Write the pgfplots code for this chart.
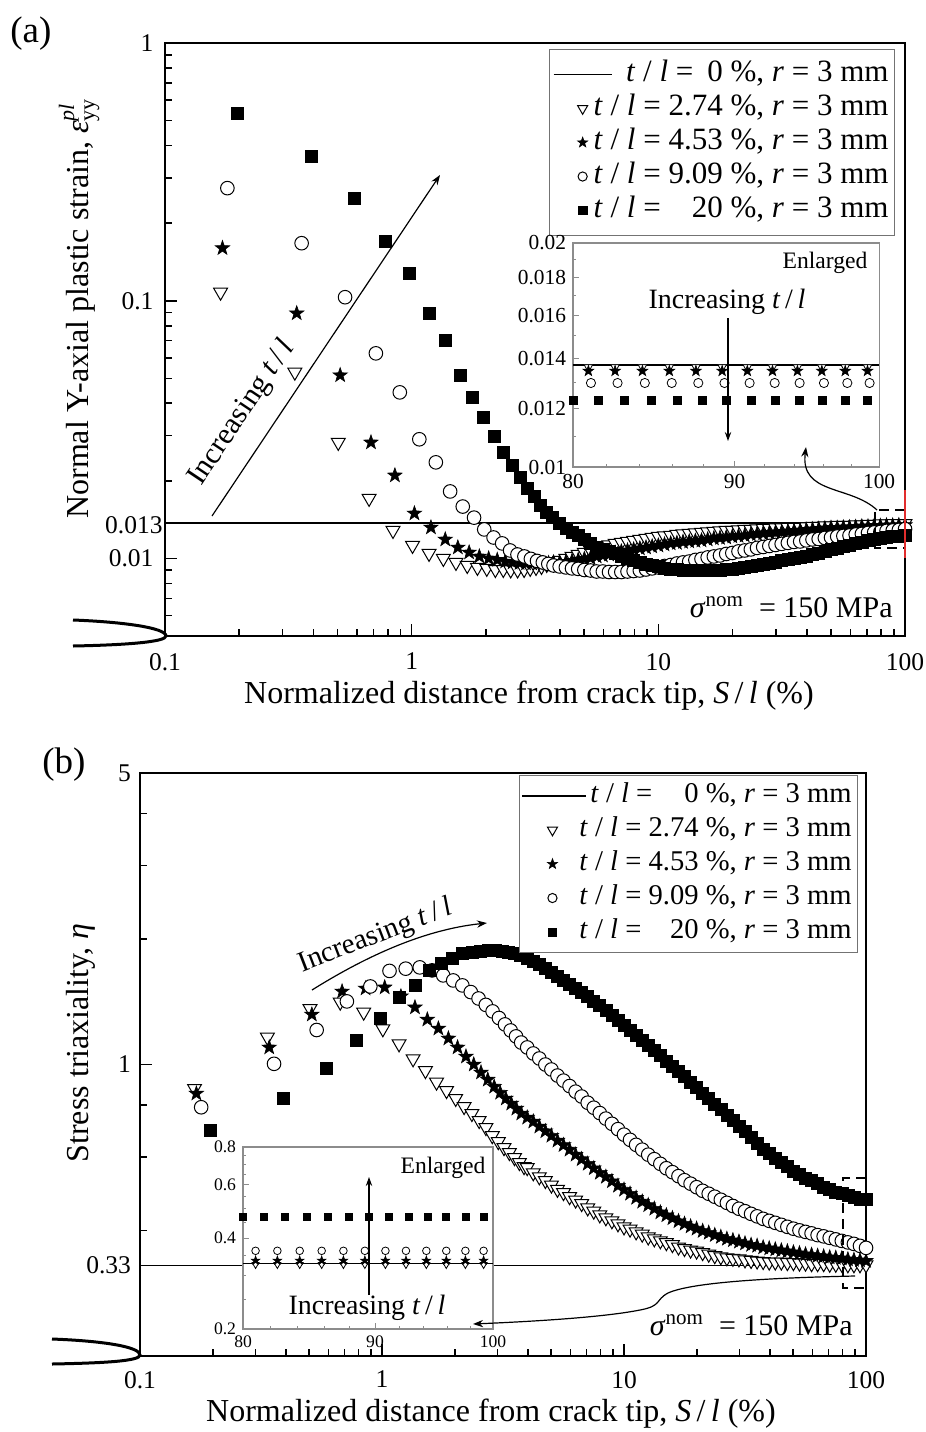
\documentclass[border=0pt]{standalone}
\usepackage{fontspec}
\setmainfont{Liberation Serif}
\usepackage{pgfplots}
\usepackage{pgfplotstable}
\pgfplotsset{compat=1.18}
\usetikzlibrary{arrows.meta}
\definecolor{edgered}{RGB}{225,45,45}

% filled five-pointed star
\pgfdeclareplotmark{fstar}{%
  \pgfpathmoveto{\pgfpoint{0pt}{\pgfplotmarksize}}%
  \pgfpathlineto{\pgfpoint{-0.2351*\pgfplotmarksize}{0.3236*\pgfplotmarksize}}%
  \pgfpathlineto{\pgfpoint{-0.9511*\pgfplotmarksize}{0.3090*\pgfplotmarksize}}%
  \pgfpathlineto{\pgfpoint{-0.3804*\pgfplotmarksize}{-0.1236*\pgfplotmarksize}}%
  \pgfpathlineto{\pgfpoint{-0.5878*\pgfplotmarksize}{-0.8090*\pgfplotmarksize}}%
  \pgfpathlineto{\pgfpoint{0pt}{-0.4*\pgfplotmarksize}}%
  \pgfpathlineto{\pgfpoint{0.5878*\pgfplotmarksize}{-0.8090*\pgfplotmarksize}}%
  \pgfpathlineto{\pgfpoint{0.3804*\pgfplotmarksize}{-0.1236*\pgfplotmarksize}}%
  \pgfpathlineto{\pgfpoint{0.9511*\pgfplotmarksize}{0.3090*\pgfplotmarksize}}%
  \pgfpathlineto{\pgfpoint{0.2351*\pgfplotmarksize}{0.3236*\pgfplotmarksize}}%
  \pgfpathclose
  \pgfusepathqfillstroke
}

\pgfplotsset{
  mTri/.style={only marks, mark=triangle*, mark size=4bp,
    mark options={rotate=180, fill=white, draw=black, line width=0.5bp}},
  mSta/.style={only marks, mark=fstar, mark size=3.8bp,
    mark options={fill=black, draw=black, line width=0.3bp}},
  mCir/.style={only marks, mark=*, mark size=3.4bp,
    mark options={fill=white, draw=black, line width=0.5bp}},
  mSqu/.style={only marks, mark=square*, mark size=3bp,
    mark options={fill=black, draw=black, line width=0.3bp}},
  % legend pictograms
  lgLineA/.style={legend image code/.code={%
    \draw[black, line width=0.8bp, overlay] (-14.5bp,0bp) -- (14.5bp,0bp);
    \path[draw=none, fill=none] (-14bp,-1bp) rectangle (3.5bp,1bp);}},
  lgLineB/.style={legend image code/.code={%
    \draw[black, line width=0.8bp, overlay] (-15bp,0bp) -- (17bp,0bp);
    \path[draw=none, fill=none] (-14bp,-1bp) rectangle (3.5bp,1bp);}},
  lgTri/.style={legend image code/.code={%
    \draw[black, only marks, mark=triangle*, mark size=2.9bp,
      mark options={rotate=180, fill=white, line width=0.5bp}] plot coordinates {(0bp,0bp)};
    \path[draw=none, fill=none] (-14bp,-1bp) rectangle (3.5bp,1bp);}},
  lgSta/.style={legend image code/.code={%
    \draw[black, only marks, mark=fstar, mark size=2.7bp,
      mark options={fill=black, line width=0.3bp}] plot coordinates {(0bp,0bp)};
    \path[draw=none, fill=none] (-14bp,-1bp) rectangle (3.5bp,1bp);}},
  lgCir/.style={legend image code/.code={%
    \draw[black, only marks, mark=*, mark size=2.3bp,
      mark options={fill=white, line width=0.5bp}] plot coordinates {(0bp,0bp)};
    \path[draw=none, fill=none] (-14bp,-1bp) rectangle (3.5bp,1bp);}},
  lgSqu/.style={legend image code/.code={%
    \draw[black, only marks, mark=square*, mark size=2.1bp,
      mark options={fill=black, line width=0.3bp}] plot coordinates {(0bp,0bp)};
    \path[draw=none, fill=none] (-14bp,-1bp) rectangle (3.5bp,1bp);}},
}

% ---------------- (a) plastic strain, near-tip points ----------------
\pgfplotstableread{
x y
0.168 0.1079
0.336 0.0528
0.504 0.0282
0.672 0.0171
0.840 0.01284
1.008 0.01123
1.176 0.01046
1.344 0.0100
1.512 0.00965
1.680 0.00939
1.848 0.00923
2.016 0.00915
2.184 0.00906
2.352 0.00906
2.520 0.00902
2.688 0.00902
2.856 0.00906
3.024 0.00915
3.192 0.00923
3.360 0.00931
3.528 0.00948
3.696 0.00960
3.864 0.00973
}\aTri
\pgfplotstableread{
x y
0.171 0.160
0.342 0.0894
0.513 0.0514
0.684 0.0282
0.855 0.0210
1.026 0.01495
1.197 0.01319
1.368 0.01185
1.539 0.01103
1.710 0.01055
1.881 0.01018
2.052 0.0100
2.223 0.00987
2.394 0.00973
2.565 0.00965
2.736 0.00960
2.907 0.00956
3.078 0.00956
3.249 0.00956
3.420 0.00956
3.591 0.00960
3.762 0.00965
}\aSta
\pgfplotstableread{
x y
0.179 0.2735
0.358 0.1672
0.537 0.1032
0.716 0.0625
0.895 0.0441
1.074 0.0290
1.253 0.0236
1.432 0.0182
1.611 0.0159
1.790 0.0144
1.969 0.01296
2.148 0.01206
2.327 0.01144
2.506 0.01074
2.685 0.01036
2.864 0.01018
3.043 0.00996
3.222 0.00978
3.401 0.00965
3.580 0.00952
3.759 0.00939
}\aCir
\pgfplotstableread{
x y
0.196 0.5347
0.392 0.3641
0.588 0.2501
0.784 0.1703
0.980 0.1279
1.176 0.0894
1.372 0.0702
1.568 0.0514
1.764 0.0422
1.960 0.0353
2.156 0.0298
2.352 0.0258
2.548 0.0230
2.744 0.0206
2.940 0.0187
3.136 0.0174
3.332 0.0161
3.528 0.0151
3.724 0.0144
}\aSqu
% (a) far field, all four geometries
\pgfplotstableread{
x tri sta cir squ
3.981 0.00982 0.00965 0.00931 0.01368
4.217 0.0100 0.00969 0.00923 0.01308
4.467 0.01018 0.00978 0.00915 0.01262
4.732 0.01036 0.00987 0.00911 0.01228
5.012 0.01055 0.00996 0.00902 0.01185
5.309 0.01074 0.01004 0.00898 0.01144
5.623 0.01094 0.01018 0.00890 0.01103
5.957 0.01113 0.01027 0.00890 0.01084
6.310 0.01128 0.01036 0.00886 0.01065
6.683 0.01144 0.01050 0.00886 0.01046
7.079 0.01154 0.01065 0.00886 0.01018
7.499 0.01164 0.01074 0.00890 0.0100
7.943 0.01175 0.01084 0.00894 0.00982
8.414 0.01185 0.01094 0.00898 0.00965
8.913 0.01196 0.01103 0.00906 0.00948
9.441 0.01206 0.01113 0.00915 0.00939
10.00 0.01217 0.01123 0.00923 0.00931
10.59 0.01223 0.01133 0.00935 0.00919
11.22 0.01228 0.01144 0.00943 0.00911
11.89 0.01239 0.01149 0.00956 0.00906
12.59 0.01245 0.01159 0.00965 0.00902
13.34 0.01251 0.01164 0.00973 0.00898
14.13 0.01256 0.01170 0.00987 0.00898
14.96 0.01262 0.01175 0.00996 0.00898
15.85 0.01267 0.01185 0.01009 0.00898
16.79 0.01273 0.01196 0.01018 0.00898
17.78 0.01279 0.01201 0.01027 0.00902
18.84 0.01284 0.01206 0.01041 0.00906
19.95 0.01284 0.01217 0.01050 0.00911
21.13 0.01290 0.01223 0.01065 0.00915
22.39 0.01296 0.01228 0.01074 0.00923
23.71 0.01296 0.01239 0.01084 0.00931
25.12 0.01302 0.01245 0.01099 0.00939
26.61 0.01308 0.01251 0.01108 0.00948
28.18 0.01308 0.01256 0.01118 0.00956
29.85 0.01314 0.01262 0.01128 0.00969
31.62 0.01314 0.01267 0.01139 0.00982
33.50 0.01320 0.01273 0.01149 0.00991
35.48 0.01320 0.01279 0.01159 0.0100
37.58 0.01320 0.01284 0.01164 0.01009
39.81 0.01325 0.01290 0.01175 0.01023
42.17 0.01331 0.01296 0.01185 0.01036
44.67 0.01331 0.01302 0.01190 0.01050
47.32 0.01337 0.01308 0.01201 0.01065
50.12 0.01337 0.01314 0.01206 0.01084
53.09 0.01343 0.01314 0.01217 0.01099
56.23 0.01343 0.01320 0.01223 0.01113
59.57 0.01343 0.01320 0.01228 0.01128
63.10 0.01349 0.01325 0.01239 0.01144
66.83 0.01349 0.01331 0.01245 0.01159
70.79 0.01355 0.01331 0.01256 0.01175
74.99 0.01355 0.01337 0.01262 0.01185
79.43 0.01361 0.01337 0.01267 0.01196
84.14 0.01361 0.01343 0.01279 0.01206
89.13 0.01365 0.01343 0.01284 0.01217
94.41 0.01366 0.01346 0.01290 0.01223
100.0 0.01366 0.01348 0.01300 0.01230
}\aFar

% ---------------- (b) stress triaxiality, near-tip points ----------------
\pgfplotstableread{
x y
0.168 0.876
0.336 1.163
0.504 1.361
0.672 1.411
0.840 1.335
1.008 1.218
1.176 1.121
1.344 1.032
1.512 0.967
1.680 0.907
1.848 0.866
2.016 0.829
2.184 0.793
2.352 0.763
2.520 0.734
2.688 0.706
2.856 0.675
3.024 0.653
3.192 0.632
3.360 0.615
3.528 0.598
3.696 0.582
3.864 0.569
}\bTri
\pgfplotstableread{
x y
0.171 0.852
0.342 1.099
0.513 1.318
0.684 1.497
0.855 1.522
1.026 1.531
1.197 1.457
1.368 1.371
1.539 1.282
1.710 1.220
1.881 1.155
2.052 1.099
2.223 1.045
2.394 1.000
2.565 0.957
2.736 0.920
2.907 0.885
3.078 0.856
3.249 0.829
3.420 0.806
3.591 0.784
3.762 0.763
}\bSta
\pgfplotstableread{
x y
0.179 0.790
0.358 1.004
0.537 1.210
0.716 1.417
0.895 1.539
1.074 1.677
1.253 1.698
1.432 1.710
1.611 1.682
1.790 1.636
1.969 1.591
2.148 1.548
2.327 1.492
2.506 1.440
2.685 1.390
2.864 1.341
3.043 1.293
3.222 1.248
3.401 1.207
3.580 1.168
3.759 1.129
}\bCir
\pgfplotstableread{
x y
0.196 0.694
0.392 0.832
0.588 0.982
0.784 1.142
0.980 1.288
1.176 1.449
1.372 1.552
1.568 1.682
1.764 1.746
1.960 1.795
2.156 1.845
2.352 1.863
2.548 1.873
2.744 1.878
2.940 1.878
3.136 1.873
3.332 1.863
3.528 1.848
3.724 1.827
}\bSqu
% (b) far field, all four geometries
\pgfplotstableread{
x tri sta cir squ
3.981 0.566 0.746 1.099 1.797
4.217 0.550 0.730 1.063 1.768
4.467 0.538 0.710 1.034 1.739
4.732 0.527 0.692 1.000 1.700
5.012 0.514 0.675 0.973 1.668
5.309 0.502 0.657 0.941 1.631
5.623 0.493 0.641 0.915 1.596
5.957 0.482 0.625 0.888 1.561
6.310 0.473 0.608 0.861 1.527
6.683 0.464 0.593 0.838 1.494
7.079 0.453 0.578 0.810 1.457
7.499 0.445 0.564 0.788 1.420
7.943 0.436 0.550 0.765 1.386
8.414 0.429 0.538 0.742 1.348
8.913 0.422 0.525 0.721 1.311
9.441 0.415 0.512 0.700 1.279
10.00 0.408 0.501 0.679 1.244
10.59 0.403 0.490 0.660 1.210
11.22 0.397 0.479 0.642 1.177
11.89 0.392 0.469 0.625 1.142
12.59 0.386 0.460 0.608 1.111
13.34 0.382 0.451 0.593 1.080
14.13 0.378 0.442 0.578 1.051
14.96 0.374 0.435 0.564 1.019
15.85 0.370 0.428 0.552 0.992
16.79 0.365 0.421 0.540 0.962
17.78 0.362 0.415 0.528 0.936
18.84 0.359 0.409 0.518 0.908
19.95 0.357 0.404 0.508 0.881
21.13 0.354 0.399 0.498 0.854
22.39 0.351 0.395 0.490 0.829
23.71 0.348 0.390 0.482 0.804
25.12 0.346 0.386 0.474 0.780
26.61 0.344 0.382 0.466 0.756
28.18 0.343 0.379 0.458 0.734
29.85 0.342 0.376 0.451 0.712
31.62 0.340 0.3725 0.445 0.690
33.50 0.339 0.3695 0.4385 0.668
35.48 0.338 0.3675 0.4325 0.648
37.58 0.337 0.3644 0.4266 0.628
39.81 0.336 0.3624 0.4219 0.611
42.17 0.336 0.3604 0.4173 0.596
44.67 0.336 0.3584 0.4127 0.5815
47.32 0.335 0.3565 0.4082 0.569
50.12 0.335 0.3545 0.404 0.556
53.09 0.334 0.3526 0.4003 0.546
56.23 0.334 0.3506 0.397 0.535
59.57 0.333 0.3497 0.3937 0.5265
63.10 0.333 0.3477 0.390 0.518
66.83 0.333 0.3467 0.3873 0.509
70.79 0.332 0.3448 0.3841 0.502
74.99 0.332 0.3439 0.3809 0.495
79.43 0.332 0.3429 0.3777 0.490
84.14 0.331 0.3410 0.3746 0.4845
89.13 0.331 0.3401 0.3715 0.4805
94.41 0.331 0.3392 0.3675 0.4765
100.0 0.331 0.3382 0.3634 0.474
}\bFar

\newcommand{\tl}{\textit{t} / \textit{l}}
\newcommand{\rr}{\textit{r} = 3 mm}

\begin{document}
\begin{tikzpicture}

% ======================= panel (a) =======================
\begin{axis}[
  at={(82.5bp,-318bp)}, anchor=south west,
  scale only axis, width=370bp, height=296.5bp,
  xmode=log, ymode=log,
  xmin=0.1, xmax=100, ymin=0.005, ymax=1,
  axis line style={line width=1bp},
  tick style={black, line width=0.8bp},
  major tick length=6bp, minor tick length=3.5bp,
  tick align=inside, xtick pos=left, ytick pos=left,
  tick label style={font=\fontsize{12.75bp}{15bp}\selectfont},
  xtick={0.1,1,10,100}, xticklabels={0.1,1,10,100},
  minor xtick={0.2,0.3,0.4,0.5,0.6,0.7,0.8,0.9,2,3,4,5,6,7,8,9,20,30,40,50,60,70,80,90},
  ytick={0.01,0.1,1}, yticklabels={0.01,0.1,1},
  minor ytick={0.006,0.007,0.008,0.009,0.02,0.03,0.04,0.05,0.06,0.07,0.08,0.09,0.2,0.3,0.4,0.5,0.6,0.7,0.8,0.9},
  xticklabel style={yshift=-5bp},
  yticklabel style={xshift=-2.25bp},
  legend style={at={(1,1)}, anchor=north east, xshift=-5bp, yshift=-3bp,
    draw=black!55, line width=0.5bp, fill=white,
    inner xsep=2.5bp, inner ysep=4bp,
    font=\fontsize{15.5bp}{17bp}\selectfont,
    nodes={inner sep=0.5bp, text height=11.5bp, text depth=4.5bp},
    row sep=0bp, column sep=1.5bp},
  legend cell align=right,
]
\addplot[black, line width=0.8bp, lgLineA] coordinates {(0.1,0.0137) (100,0.0137)};
\addlegendentry{\tl{} =\hspace{0.45em}0 \%, \rr}
\addplot[mTri, lgTri] table {\aTri};
\addlegendentry{\tl{} = 2.74 \%, \rr}
\addplot[mTri, forget plot] table[x=x, y=tri] {\aFar};
\addplot[mSta, lgSta] table {\aSta};
\addlegendentry{\tl{} = 4.53 \%, \rr}
\addplot[mSta, forget plot] table[x=x, y=sta] {\aFar};
\addplot[mCir, lgCir] table {\aCir};
\addlegendentry{\tl{} = 9.09 \%, \rr}
\addplot[mCir, forget plot] table[x=x, y=cir] {\aFar};
\addplot[mSqu, lgSqu] table {\aSqu};
\addlegendentry{\tl{} = \hphantom{2.}20 \%, \rr}
\addplot[mSqu, forget plot] table[x=x, y=squ] {\aFar};
\end{axis}

% inset of (a): 80-100 %
\begin{axis}[
  at={(286.5bp,-233.5bp)}, anchor=south west,
  scale only axis, width=153bp, height=112bp,
  xmode=log, ymode=log, xmin=80, xmax=100, ymin=0.01, ymax=0.02,
  axis background/.style={fill=white},
  axis line style={black!45, line width=0.6bp},
  tick style={black!45, line width=0.5bp},
  major tick length=3bp, minor tick length=1.6bp,
  tick align=inside, xtick pos=left, ytick pos=left,
  xtick={80,90,100}, xticklabels={80,90,100},
  minor xtick={82,84,86,88,92,94,96,98},
  ytick={0.01,0.012,0.014,0.016,0.018,0.02},
  yticklabels={0.01,0.012,0.014,0.016,0.018,0.02},
  minor ytick={0.011,0.013,0.015,0.017,0.019},
  tick label style={font=\fontsize{10.7bp}{12bp}\selectfont},
]
\addplot[black, line width=0.8bp] coordinates {(80,0.0137) (100,0.0137)};
\addplot[only marks, mark=triangle*, mark size=2.5bp,
  mark options={rotate=180, fill=white, line width=0.4bp}] coordinates {
  (80.90,0.01362) (82.49,0.01362) (84.15,0.01362) (85.82,0.01362) (87.50,0.01362) (89.19,0.01362)
  (90.84,0.01362) (92.52,0.01362) (94.22,0.01362) (95.91,0.01362) (97.56,0.01362) (99.16,0.01362)};
\addplot[mSta, mark size=2.8bp] coordinates {
  (80.90,0.01346) (82.49,0.01346) (84.15,0.01346) (85.82,0.01346) (87.50,0.01346) (89.19,0.01346)
  (90.84,0.01346) (92.52,0.01346) (94.22,0.01346) (95.91,0.01346) (97.56,0.01346) (99.16,0.01346)};
\addplot[only marks, mark=*, mark size=2.3bp,
  mark options={fill=white, draw=black, line width=0.4bp}] coordinates {
  (81.05,0.01297) (82.64,0.01297) (84.30,0.01297) (85.97,0.01297) (87.65,0.01297) (89.34,0.01297)
  (90.99,0.01297) (92.67,0.01297) (94.37,0.01297) (96.06,0.01297) (97.71,0.01297) (99.31,0.01297)};
\addplot[mSqu, mark size=2bp] coordinates {
  (80.00,0.0123) (81.46,0.0123) (83.05,0.0123) (84.68,0.0123) (86.32,0.0123) (87.91,0.0123)
  (89.49,0.0123) (91.12,0.0123) (92.73,0.0123) (94.34,0.0123) (95.91,0.0123) (97.56,0.0123) (99.16,0.0123)};
\end{axis}

% ======================= panel (b) =======================
\begin{axis}[
  at={(70bp,-678bp)}, anchor=south west,
  scale only axis, width=363bp, height=291.5bp,
  xmode=log, ymode=log,
  xmin=0.1, xmax=100, ymin=0.2, ymax=5,
  axis line style={line width=1bp},
  tick style={black, line width=0.8bp},
  major tick length=6bp, minor tick length=3.5bp,
  tick align=inside, xtick pos=left, ytick pos=left,
  tick label style={font=\fontsize{12.75bp}{15bp}\selectfont},
  xtick={0.1,1,10,100}, xticklabels={0.1,1,10,100},
  minor xtick={0.2,0.3,0.4,0.5,0.6,0.7,0.8,0.9,2,3,4,5,6,7,8,9,20,30,40,50,60,70,80,90},
  ytick={1,5}, yticklabels={1,5},
  extra y ticks={0.33}, extra y tick labels={0.33},
  minor ytick={0.4,0.6,0.8,2,3,4},
  xticklabel style={yshift=-4bp},
  yticklabel style={xshift=-1bp},
  legend style={at={(1,1)}, anchor=north east, xshift=-4bp, yshift=-1bp,
    draw=black!55, line width=0.5bp, fill=white,
    inner xsep=2.5bp, inner ysep=1.75bp,
    font=\fontsize{14.3bp}{16bp}\selectfont,
    nodes={inner sep=0.5bp, text height=11.25bp, text depth=4.75bp},
    row sep=0bp, column sep=9.5bp},
  legend cell align=right,
]
\addplot[black, line width=0.8bp, lgLineB] coordinates {(0.1,0.33) (100,0.33)};
\addlegendentry{\tl{} =\hspace{1.12em}0 \%, \rr}
\addplot[mTri, lgTri] table {\bTri};
\addlegendentry{\tl{} = 2.74 \%, \rr}
\addplot[mTri, forget plot] table[x=x, y=tri] {\bFar};
\addplot[mSta, lgSta] table {\bSta};
\addlegendentry{\tl{} = 4.53 \%, \rr}
\addplot[mSta, forget plot] table[x=x, y=sta] {\bFar};
\addplot[mCir, lgCir] table {\bCir};
\addlegendentry{\tl{} = 9.09 \%, \rr}
\addplot[mCir, forget plot] table[x=x, y=cir] {\bFar};
\addplot[mSqu, lgSqu] table {\bSqu};
\addlegendentry{\tl{} = \hphantom{2.}20 \%, \rr}
\addplot[mSqu, forget plot] table[x=x, y=squ] {\bFar};
\end{axis}

% inset of (b): 80-100 %
\begin{axis}[
  at={(121.5bp,-664.5bp)}, anchor=south west,
  scale only axis, width=125bp, height=91bp,
  xmode=log, ymode=log, xmin=80, xmax=100, ymin=0.2, ymax=0.8,
  axis background/.style={fill=white},
  axis line style={black!45, line width=0.6bp},
  tick style={black!45, line width=0.5bp},
  major tick length=3bp, minor tick length=1.6bp,
  tick align=inside, xtick pos=left, ytick pos=left,
  xtick={80,90,100}, xticklabels={80,90,100},
  minor xtick={82,84,86,88,92,94,96,98},
  ytick={0.2,0.4,0.6,0.8}, yticklabels={0.2,0.4,0.6,0.8},
  minor ytick={0.25,0.3,0.35,0.45,0.5,0.55,0.65,0.7,0.75},
  tick label style={font=\fontsize{8.8bp}{10bp}\selectfont},
]
\addplot[black, line width=0.8bp] coordinates {(80,0.33) (100,0.33)};
\addplot[only marks, mark=triangle*, mark size=2bp,
  mark options={rotate=180, fill=white, line width=0.4bp}] coordinates {
  (80.90,0.327) (82.49,0.327) (84.15,0.327) (85.82,0.327) (87.50,0.327) (89.19,0.327)
  (90.84,0.327) (92.52,0.327) (94.22,0.327) (95.91,0.327) (97.56,0.327) (99.16,0.327)};
\addplot[mSta, mark size=2.3bp] coordinates {
  (80.90,0.337) (82.49,0.337) (84.15,0.337) (85.82,0.337) (87.50,0.337) (89.19,0.337)
  (90.84,0.337) (92.52,0.337) (94.22,0.337) (95.91,0.337) (97.56,0.337) (99.16,0.337)};
\addplot[only marks, mark=*, mark size=1.9bp,
  mark options={fill=white, draw=black, line width=0.4bp}] coordinates {
  (80.90,0.363) (82.49,0.363) (84.15,0.363) (85.82,0.363) (87.50,0.363) (89.19,0.363)
  (90.84,0.363) (92.52,0.363) (94.22,0.363) (95.91,0.363) (97.56,0.363) (99.16,0.363)};
\addplot[mSqu, mark size=1.75bp] coordinates {
  (80.00,0.47) (81.46,0.47) (83.05,0.47) (84.68,0.47) (86.32,0.47) (87.91,0.47)
  (89.49,0.47) (91.12,0.47) (92.73,0.47) (94.34,0.47) (95.91,0.47) (97.56,0.47) (99.16,0.47)};
\end{axis}

% ======================= labels and annotations (1 unit = 1 px) =======================
\begin{scope}[x=0.5bp, y=-0.5bp]
  % panel tags
  \node[anchor=base west, inner sep=0pt, font=\fontsize{18.5bp}{20bp}\selectfont] at (10,43) {(a)};
  \node[anchor=base west, inner sep=0pt, font=\fontsize{18.5bp}{20bp}\selectfont] at (42,773) {(b)};
  % axis titles
  \node[anchor=base, inner sep=0pt, font=\fontsize{16bp}{18bp}\selectfont] at (529,703)
    {Normalized distance from crack tip, \textit{S}\,/\,\textit{l} (\%)};
  \node[anchor=base, inner sep=0pt, font=\fontsize{16bp}{18bp}\selectfont] at (491,1421)
    {Normalized distance from crack tip, \textit{S}\,/\,\textit{l} (\%)};
  \node[rotate=90, anchor=base, inner sep=0pt, font=\fontsize{16bp}{18bp}\selectfont] at (88,309)
    {Normal Y-axial plastic strain, {\itshape ε}\rlap{\raisebox{0.95ex}{\fontsize{11bp}{11bp}\selectfont\itshape pl}}\raisebox{-0.45ex}{\fontsize{11bp}{11bp}\selectfont yy}};
  \node[rotate=90, anchor=base, inner sep=0pt, font=\fontsize{16bp}{18bp}\selectfont] at (88,1043)
    {Stress triaxiality, \textit{η}};
  % threshold label of (a)
  \node[anchor=east, inner sep=0pt, font=\fontsize{12.75bp}{15bp}\selectfont] at (163,525) {0.013};
  % crack tips
  \draw[line width=1.5bp] (73,620) .. controls (125,622) and (166,628) .. (166,636)
       .. controls (166,642) and (125,645) .. (73,646);
  \draw[line width=1.5bp] (52,1339) .. controls (105,1341) and (140,1347) .. (140,1355)
       .. controls (140,1361) and (105,1363) .. (52,1364);

  % ---- (a) annotations
  \draw[-{Stealth[length=5bp,width=3.6bp]}, line width=0.6bp] (212,516) -- (440,175);
  \node[rotate=56.2, anchor=base, inner sep=0pt, font=\fontsize{15bp}{18bp}\selectfont] at (248,417)
    {Increasing \textit{t}\,/\,\textit{l}};
  \draw[line width=0.6bp, dash pattern=on 5bp off 3bp] (905,510) -- (875,510) -- (875,548) -- (905,548);
  \draw[line width=1bp, edgered] (905,490) -- (905,558);
  \draw[-{Stealth[length=5bp,width=3.6bp]}, line width=0.6bp] (877,510) .. controls (850,485) and (800,495) .. (806,447);
  \node[anchor=base east, inner sep=0pt, font=\fontsize{15bp}{18bp}\selectfont] at (893,617)
    {\textit{σ}\textsuperscript{nom}\ \ = 150 MPa};
  \node[font=\fontsize{11.8bp}{14bp}\selectfont] at (825,263) {Enlarged};
  \node[font=\fontsize{14bp}{16bp}\selectfont] at (727,302) {Increasing \textit{t}\,/\,\textit{l}};
  \draw[-{Stealth[length=4.5bp,width=3.2bp]}, line width=0.6bp] (728,318) -- (728,441);

  % ---- (b) annotations
  \draw[-{Stealth[length=5bp,width=3.6bp]}, line width=0.6bp] (312,990) .. controls (360,960) and (420,930) .. (487,923);
  \node[rotate=21, anchor=base, inner sep=0pt, font=\fontsize{14.5bp}{17bp}\selectfont] at (378,943)
    {Increasing \textit{t}\,/\,\textit{l}};
  \draw[line width=0.6bp, dash pattern=on 5bp off 3bp] (866,1178) -- (843,1178) -- (843,1288) -- (866,1288);
  \draw[-{Stealth[length=5bp,width=3.6bp]}, line width=0.6bp] (855,1276) .. controls (760,1278) and (690,1283) .. (668,1293)
       .. controls (655,1300) and (662,1306) .. (640,1310) .. controls (600,1318) and (520,1322) .. (473,1324);
  \node[anchor=base east, inner sep=0pt, font=\fontsize{15bp}{18bp}\selectfont] at (853,1335)
    {\textit{σ}\textsuperscript{nom}\ \ = 150 MPa};
  \node[font=\fontsize{11.8bp}{14bp}\selectfont] at (443,1168) {Enlarged};
  \node[font=\fontsize{14bp}{16bp}\selectfont] at (367,1308) {Increasing \textit{t}\,/\,\textit{l}};
  \draw[-{Stealth[length=4.5bp,width=3.2bp]}, line width=0.6bp] (369,1295) -- (369,1177);

  \pgfresetboundingbox
  \path[use as bounding box] (0,0) rectangle (925,1432);
\end{scope}
\end{tikzpicture}
\end{document}
